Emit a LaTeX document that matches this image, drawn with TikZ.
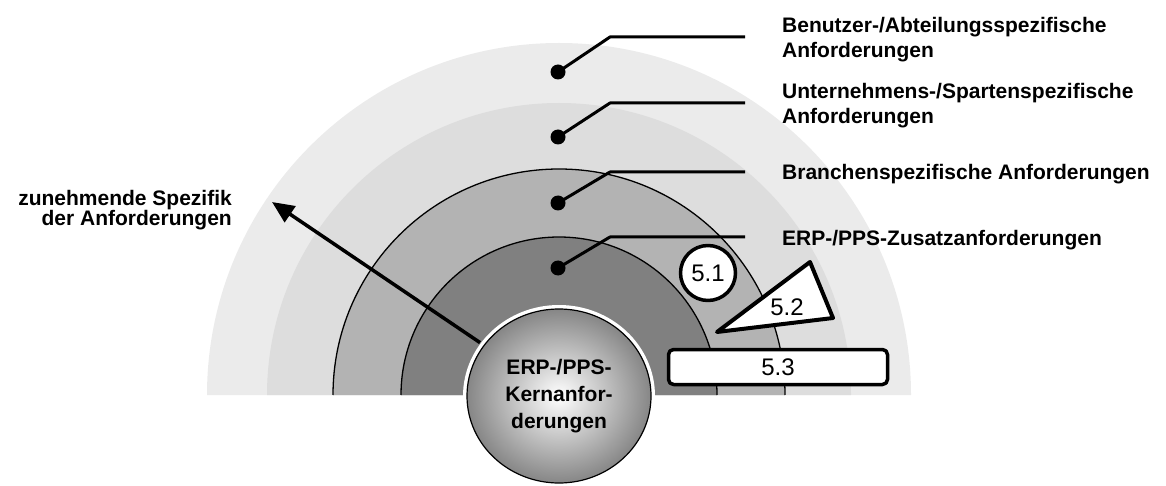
\documentclass[tikz,border=0pt]{standalone}
\usepackage{fontspec}
\setmainfont{Liberation Sans}
\usepackage{tikz}
\usetikzlibrary{arrows.meta,shapes.geometric}
\definecolor{ringA}{RGB}{235,235,235}
\definecolor{ringB}{RGB}{221,221,221}
\definecolor{ringC}{RGB}{179,179,179}
\definecolor{ringD}{RGB}{128,128,128}
\definecolor{kernedge}{RGB}{134,134,134}
\pgfdeclareradialshading{kernshade}{\pgfpoint{0bp}{0bp}}{color(0bp)=(white); color(25bp)=(kernedge); color(50bp)=(kernedge)}
\tikzset{lbl/.style={anchor=north west,align=left,inner sep=0pt,font=\fontsize{21}{25}\selectfont\bfseries},
  dot/.style={circle,fill=black,inner sep=0pt,minimum size=15pt},
  lead/.style={line width=3pt},
  nr/.style={draw,line width=3.5pt,fill=white,inner sep=0pt,font=\fontsize{24}{24}\selectfont}}

\begin{document}
\begin{tikzpicture}[x=1pt,y=1pt,>=Stealth,line join=round]
\useasboundingbox (0,0) rectangle (1166,485);
% --- rings round the core, outermost first
\fill[ringA] (207,90) arc[start angle=180,end angle=0,radius=352] -- cycle;
\fill[ringB] (267,90) arc[start angle=180,end angle=0,radius=292] -- cycle;
\fill[ringC] (333,90) arc[start angle=180,end angle=0,radius=226] -- cycle;
\draw[line width=1.3pt] (333,90) arc[start angle=180,end angle=0,radius=226];
\fill[ringD] (401,90) arc[start angle=180,end angle=0,radius=158] -- cycle;
\draw[line width=1.3pt] (401,90) arc[start angle=180,end angle=0,radius=158];
% --- dots with leader lines to the labels
\node[dot] (d1) at (558,413) {}; \coordinate (k1) at (610,448); \coordinate (e1) at (745,448);
\node[dot] (d2) at (558,348) {}; \coordinate (k2) at (610,382); \coordinate (e2) at (745,382);
\node[dot] (d3) at (558,282) {}; \coordinate (k3) at (610,313); \coordinate (e3) at (745,313);
\node[dot] (d4) at (558,217) {}; \coordinate (k4) at (610,248); \coordinate (e4) at (745,248);
\draw[lead] (d1.center) -- (k1) -- (e1);
\draw[lead] (d2.center) -- (k2) -- (e2);
\draw[lead] (d3.center) -- (k3) -- (e3);
\draw[lead] (d4.center) -- (k4) -- (e4);
\node[lbl] (l1) at (782,468) {Benutzer-/Abteilungsspezifische\\Anforderungen};
\node[lbl] (l2) at (782,402) {Unternehmens-/Spartenspezifische\\Anforderungen};
\node[lbl] (l3) at (782,321) {Branchenspezifische Anforderungen};
\node[lbl] (l4) at (782,255) {ERP-/PPS-Zusatzanforderungen};
% --- core and arrow
\node[ellipse,minimum width=184pt,minimum height=174pt,draw=black,line width=1.2pt,shading=kernshade,
  preaction={draw=white,line width=8pt},outer sep=5pt,align=center,
  font=\fontsize{21}{27}\selectfont\bfseries] (kern) at (559,89) {ERP-/PPS-\\Kernanfor-\\derungen};
\coordinate (tip) at (272,283);
\draw[-{Triangle[length=22pt,width=19pt]},line width=3.5pt] (kern) -- (tip);
\node[anchor=north east,align=right,inner sep=0pt,font=\fontsize{21}{20}\selectfont\bfseries] (spez) at (232,295) {zunehmende Spezifik\\der Anforderungen};
% --- markers 5.1 to 5.3
\node[nr,circle,minimum size=55pt] (n51) at (708,212) {5.1};
\draw[line width=4pt,fill=white] (717,153) -- (810,223) -- (833,167) -- cycle;
\node[inner sep=0pt,font=\fontsize{24}{24}\selectfont] (n52) at (787,178) {5.2};
\node[nr,rounded corners=5pt,minimum width=219pt,minimum height=35pt] (n53) at (778,118) {5.3};
\end{tikzpicture}
\end{document}
